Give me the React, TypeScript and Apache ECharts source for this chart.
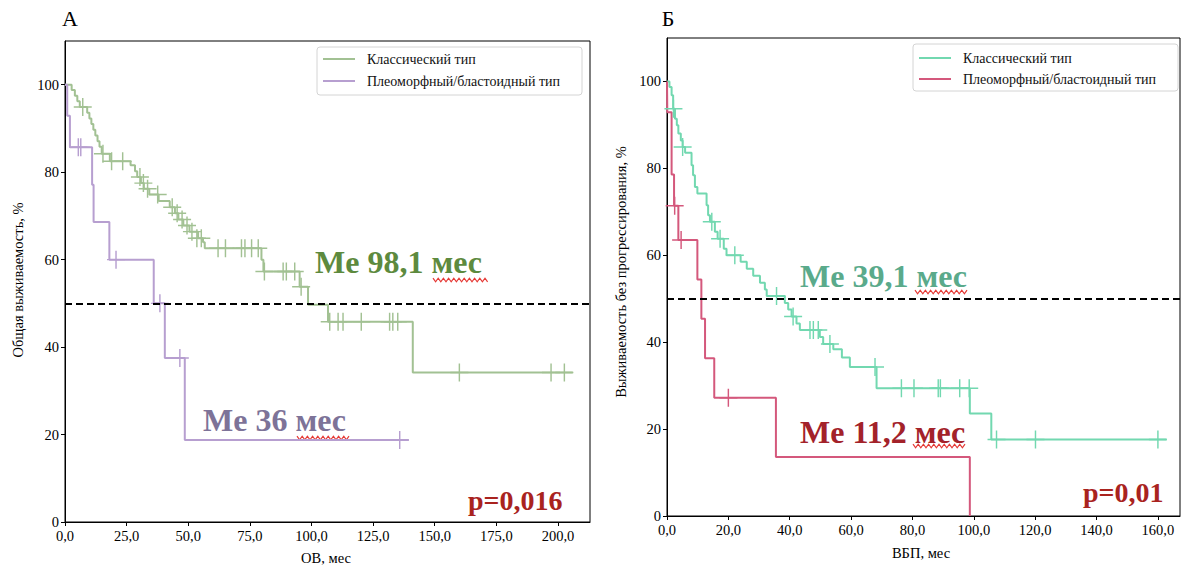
import React, { useEffect, useRef } from 'react';
import * as echarts from 'echarts';

const FONT = "'Liberation Serif', 'Times New Roman', serif";

// ---------- Panel А: overall survival (ОВ) ----------
const osClassicSteps: number[][] = [
  [0, 100], [2.7, 98.8], [4.0, 97.5], [5.0, 96.2], [6.0, 94.9], [9.0, 93.6], [9.9, 92.3],
  [10.7, 91.0], [11.5, 89.7], [12.3, 88.4], [13.2, 87.1], [14.0, 85.8], [14.9, 84.2],
  [18.2, 82.5], [26.6, 81.6], [28.4, 80.2], [29.3, 78.9], [30.8, 77.5], [32.0, 76.2],
  [34.2, 74.9], [38.0, 73.4], [42.5, 72.0], [44.6, 70.6], [46.0, 69.2], [48.0, 67.8],
  [50.5, 66.4], [54.0, 64.9], [56.0, 64.0], [56.7, 62.6], [79.7, 60.0], [80.5, 57.3],
  [95.2, 53.8], [98.6, 49.7], [106.7, 45.8], [141.1, 34.2], [206.0, 34.2],
];
const osClassicCensored: number[][] = [
  [7.2, 94.9], [15.4, 84.2], [18.9, 82.5], [23.4, 82.5], [30.4, 78.9], [31.8, 77.5],
  [33.5, 76.2], [37.6, 74.9], [43.5, 72.0], [45.5, 70.6], [47.5, 69.2], [49.5, 67.8],
  [51.5, 66.4], [53.5, 64.9], [55.3, 64.9], [62.1, 62.6], [65.1, 62.6], [71.6, 62.6],
  [73.0, 62.6], [75.7, 62.6], [78.4, 62.6], [80.9, 57.3], [88.5, 57.3], [89.8, 57.3],
  [93.2, 57.3], [95.8, 53.8], [107.4, 45.8], [110.8, 45.8], [112.8, 45.8], [120.2, 45.8],
  [131.7, 45.8], [133.0, 45.8], [135.0, 45.8], [160.0, 34.2], [197.2, 34.2], [202.6, 34.2],
];
const osPleoSteps: number[][] = [
  [0, 100], [0.9, 92.9], [2.0, 85.7], [11.0, 77.1], [11.6, 68.6], [18.0, 60.0],
  [36.0, 50.0], [40.5, 37.5], [48.6, 18.75], [139.5, 18.75],
];
const osPleoCensored: number[][] = [
  [5.4, 85.7], [6.4, 85.7], [20.7, 60.0], [38.5, 50.0], [46.6, 37.5], [135.8, 18.75],
];

// ---------- Panel Б: progression-free survival (ВБП) ----------
const pfsClassicSteps: number[][] = [
  [0, 100], [0.8, 98.7], [1.5, 96.8], [2.0, 93.7], [2.6, 91.4], [3.2, 89.9], [3.7, 88.0],
  [4.5, 86.4], [5.1, 84.9], [5.9, 83.6], [8.0, 80.7], [8.5, 78.4], [9.1, 75.7], [9.9, 74.2],
  [12.9, 71.5], [13.4, 69.2], [14.0, 67.7], [15.6, 65.4], [16.5, 63.8], [18.5, 61.5],
  [19.4, 60.0], [24.0, 58.5], [26.0, 56.9], [28.1, 55.3], [30.3, 53.7], [31.9, 52.1],
  [32.5, 50.6], [38.4, 49.0], [39.5, 47.5], [40.6, 45.9], [42.2, 44.3], [43.3, 42.8],
  [49.8, 41.2], [50.9, 39.6], [54.2, 38.4], [57.0, 36.5], [59.6, 34.3], [68.3, 29.4],
  [98.7, 23.6], [105.7, 17.6], [162.8, 17.6],
];
const pfsClassicCensored: number[][] = [
  [2.1, 93.7], [5.1, 84.9], [14.6, 67.7], [17.3, 63.8], [22.1, 60.0], [35.7, 50.6],
  [41.1, 45.9], [46.6, 42.8], [47.7, 42.8], [49.3, 42.8], [53.1, 39.6], [67.8, 34.3],
  [76.4, 29.4], [80.5, 29.4], [88.4, 29.4], [89.1, 29.4], [95.4, 29.4], [98.5, 29.4],
  [107.4, 17.6], [120.1, 17.6], [160.0, 17.6],
];
const pfsPleoSteps: number[][] = [
  [0, 100], [0.1, 92.9], [1.5, 78.6], [2.3, 71.4], [3.7, 63.5], [9.9, 54.4], [11.2, 45.4],
  [12.4, 36.3], [15.4, 27.2], [35.5, 13.6], [98.7, 0],
];
const pfsPleoCensored: number[][] = [
  [2.5, 71.4], [4.6, 63.5], [20.0, 27.2],
];

const osXTicks = [0, 25, 50, 75, 100, 125, 150, 175, 200];
const pfsXTicks = [0, 20, 40, 60, 80, 100, 120, 140, 160];
const yTicks = [0, 20, 40, 60, 80, 100];

const seriesNames = ['Классический тип', 'Плеоморфный/бластоидный тип'];

const C_OS_CLASSIC = '#a2c193';
const C_OS_PLEO = '#b79fd0';
const C_PFS_CLASSIC = '#72d8b0';
const C_PFS_PLEO = '#d4587c';

const PLUS = 'path://M4.6,0H5.4V4.6H10V5.4H5.4V10H4.6V5.4H0V4.6H4.6Z';

const fmtX = (v: number) => v.toFixed(1).replace('.', ',');

function xAxisCfg(gridIndex: number, max: number, ticks: number[]) {
  return {
    type: 'value', gridIndex, min: 0, max,
    axisLine: { show: true, onZero: false, lineStyle: { color: '#000', width: 1 } },
    axisTick: { show: true, length: 4, lineStyle: { color: '#000' }, customValues: ticks },
    axisLabel: { color: '#000', fontFamily: FONT, fontSize: 14.5, margin: 6, customValues: ticks, formatter: fmtX },
    splitLine: { show: false },
  };
}
function yAxisCfg(gridIndex: number) {
  return {
    type: 'value', gridIndex, min: 0, max: 110,
    axisLine: { show: true, onZero: false, lineStyle: { color: '#000', width: 1 } },
    axisTick: { show: true, length: 4, lineStyle: { color: '#000' }, customValues: yTicks },
    axisLabel: { color: '#000', fontFamily: FONT, fontSize: 14.5, margin: 6, customValues: yTicks, formatter: (v: number) => String(v) },
    splitLine: { show: false },
  };
}

function kmLine(idx: number, data: number[][], color: string, withMedian: boolean) {
  const s: any = {
    type: 'line', xAxisIndex: idx, yAxisIndex: idx, data, step: 'end',
    showSymbol: false, symbol: 'none', silent: true,
    lineStyle: { color, width: 2 },
    z: 3,
  };
  if (withMedian) {
    s.markLine = {
      silent: true, symbol: 'none', label: { show: false },
      lineStyle: { color: '#000', type: [7, 4], width: 2 },
      data: [{ yAxis: 50 }],
      z: 5,
    };
  }
  return s;
}
function censors(idx: number, data: number[][], color: string) {
  return {
    type: 'scatter', xAxisIndex: idx, yAxisIndex: idx, data, symbol: PLUS, symbolSize: 18,
    silent: true, itemStyle: { color, opacity: 1 }, z: 4,
  };
}

function wave(x0: number, x1: number, y: number) {
  const pts: number[][] = [];
  let i = 0;
  for (let x = x0; x <= x1; x += 2.6, i++) pts.push([x, y + (i % 2 ? 1.8 : -1.8)]);
  return {
    type: 'polyline', shape: { points: pts }, silent: true,
    style: { stroke: '#e53935', lineWidth: 1.2, fill: null },
  };
}

function txt(x: number, y: number, text: string, size: number, color: string, opts: any = {}) {
  return {
    type: 'text', x, y, silent: true, rotation: opts.rotation || 0,
    style: {
      text, fill: color, fontFamily: FONT, fontSize: size, fontWeight: opts.bold ? 'bold' : 'normal',
      align: opts.align || 'left', verticalAlign: 'middle',
    },
  };
}

function legend(x: number, y: number, w: number, h: number, rows: number[], colors: string[]) {
  return [
    { type: 'rect', shape: { x, y, width: w, height: h, r: 3 }, silent: true, style: { fill: '#fff', stroke: '#d4d4d4', lineWidth: 1 }, z: 10 },
    ...rows.map((ry, i) => ({ type: 'line', shape: { x1: x + 6, y1: ry, x2: x + 38, y2: ry }, silent: true, style: { stroke: colors[i], lineWidth: 2 }, z: 11 })),
    ...rows.map((ry, i) => ({ ...txt(x + 50, ry, seriesNames[i], 14, '#111'), z: 11 })),
  ];
}

export default function App() {
  const ref = useRef<HTMLDivElement>(null);
  useEffect(() => {
    if (!ref.current) return;
    const chart = echarts.init(ref.current, undefined, { renderer: 'svg' });
    chart.setOption({
      animation: false,
      backgroundColor: '#fff',
      textStyle: { fontFamily: FONT },
      grid: [
        { left: 65, top: 41, width: 525, height: 481, show: true, borderColor: '#000', borderWidth: 1, backgroundColor: 'transparent' },
        { left: 667, top: 38, width: 513, height: 478, show: true, borderColor: '#000', borderWidth: 1, backgroundColor: 'transparent' },
      ],
      xAxis: [xAxisCfg(0, 213, osXTicks), xAxisCfg(1, 167.2, pfsXTicks)],
      yAxis: [yAxisCfg(0), yAxisCfg(1)],
      series: [
        kmLine(0, osClassicSteps, C_OS_CLASSIC, true),
        kmLine(0, osPleoSteps, C_OS_PLEO, false),
        censors(0, osClassicCensored, C_OS_CLASSIC),
        censors(0, osPleoCensored, C_OS_PLEO),
        kmLine(1, pfsClassicSteps, C_PFS_CLASSIC, true),
        kmLine(1, pfsPleoSteps, C_PFS_PLEO, false),
        censors(1, pfsClassicCensored, C_PFS_CLASSIC),
        censors(1, pfsPleoCensored, C_PFS_PLEO),
      ],
      graphic: [
        txt(70, 18, 'А', 22, '#000', { align: 'center' }),
        txt(668, 18, 'Б', 22, '#000', { align: 'center' }),
        txt(18, 280, 'Общая выживаемость, %', 14.5, '#000', { align: 'center', rotation: Math.PI / 2 }),
        txt(621, 272, 'Выживаемость без прогрессирования, %', 14.5, '#000', { align: 'center', rotation: Math.PI / 2 }),
        txt(326, 558, 'ОВ, мес', 14.5, '#000', { align: 'center' }),
        txt(921, 553, 'ВБП, мес', 14.5, '#000', { align: 'center' }),
        ...legend(317, 47, 265, 48, [59, 81], [C_OS_CLASSIC, C_OS_PLEO]),
        ...legend(913, 44, 265, 47, [58, 79], [C_PFS_CLASSIC, C_PFS_PLEO]),
        txt(315, 262, 'Me 98,1 мес', 32, '#5d8a3e', { bold: true }),
        txt(203, 420, 'Me 36 мес', 32, '#7d7398', { bold: true }),
        txt(468, 500, 'p=0,016', 28, '#a9231e', { bold: true }),
        txt(800, 276, 'Me 39,1 мес', 32, '#5aaa8b', { bold: true }),
        txt(800, 432, 'Me 11,2 мес', 32, '#a3222a', { bold: true }),
        txt(1083, 492, 'p=0,01', 28, '#a9231e', { bold: true }),
        wave(433, 488, 280),
        wave(297, 350, 438),
        wave(915, 968, 292),
        wave(913, 967, 446),
      ],
    });
    return () => chart.dispose();
  }, []);
  return <div ref={ref} style={{ position: 'absolute', left: 0, top: 0, width: 1182, height: 568 }} />;
}
